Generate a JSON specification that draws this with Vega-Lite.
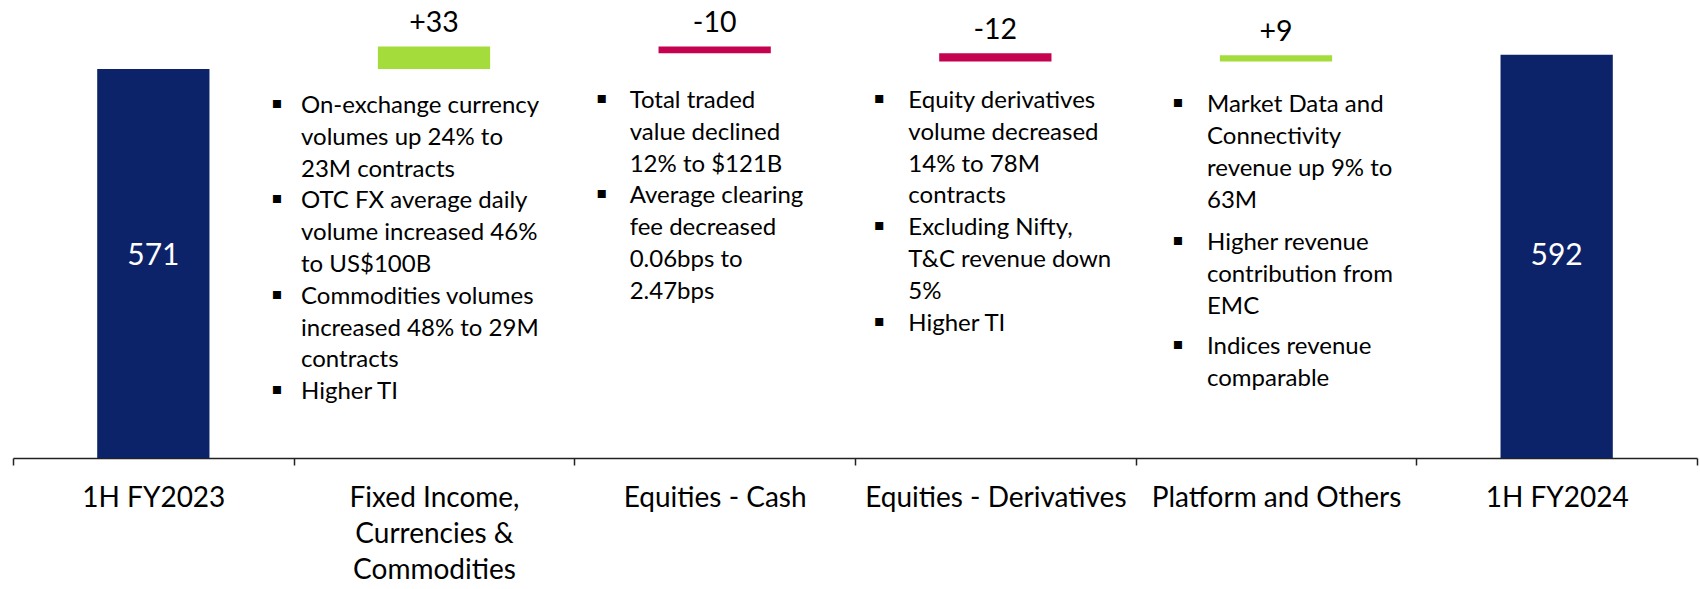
{
  "$schema": "https://vega.github.io/schema/vega-lite/v6.json",
  "autosize": "none",
  "padding": {"left": 13, "top": 0, "right": 3, "bottom": 131},
  "width": 1684,
  "height": 458,
  "background": "white",
  "config": {"view": {"stroke": null}, "font": "Lato", "text": {"font": "Lato"}},
  "datasets": {
    "bars": [
      {"cat": "1H FY2023", "lo": 0, "hi": 571, "kind": "total", "label": "571"},
      {"cat": "Fixed Income, Currencies & Commodities", "lo": 571, "hi": 604, "kind": "up", "label": "+33"},
      {"cat": "Equities - Cash", "lo": 594, "hi": 604, "kind": "down", "label": "-10"},
      {"cat": "Equities - Derivatives", "lo": 582, "hi": 594, "kind": "down", "label": "-12"},
      {"cat": "Platform and Others", "lo": 582, "hi": 591, "kind": "up", "label": "+9"},
      {"cat": "1H FY2024", "lo": 0, "hi": 592, "kind": "total", "label": "592"}
    ],
    "notes": [
      {"col": 2, "cat": "Fixed Income, Currencies & Commodities", "first": 0, "lines": ["On-exchange currency", "volumes up 24% to", "23M contracts"]},
      {"col": 2, "cat": "Fixed Income, Currencies & Commodities", "first": 3, "lines": ["OTC FX average daily", "volume increased 46%", "to US$100B"]},
      {"col": 2, "cat": "Fixed Income, Currencies & Commodities", "first": 6, "lines": ["Commodities volumes", "increased 48% to 29M", "contracts"]},
      {"col": 2, "cat": "Fixed Income, Currencies & Commodities", "first": 9, "lines": ["Higher TI"]},
      {"col": 3, "cat": "Equities - Cash", "first": 0, "lines": ["Total traded", "value declined", "12% to $121B"]},
      {"col": 3, "cat": "Equities - Cash", "first": 3, "lines": ["Average clearing", "fee decreased", "0.06bps to", "2.47bps"]},
      {"col": 4, "cat": "Equities - Derivatives", "first": 0, "lines": ["Equity derivatives", "volume decreased", "14% to 78M", "contracts"]},
      {"col": 4, "cat": "Equities - Derivatives", "first": 4, "lines": ["Excluding Nifty,", "T&C revenue down", "5%"]},
      {"col": 4, "cat": "Equities - Derivatives", "first": 7, "lines": ["Higher TI"]},
      {"col": 5, "cat": "Platform and Others", "first": 0, "lines": ["Market Data and", "Connectivity", "revenue up 9% to", "63M"]},
      {"col": 5, "cat": "Platform and Others", "first": 4, "lines": ["Higher revenue", "contribution from", "EMC"]},
      {"col": 5, "cat": "Platform and Others", "first": 7, "lines": ["Indices revenue", "comparable"]}
    ]
  },
  "encoding": {
    "x": {
      "field": "cat",
      "type": "nominal",
      "sort": null,
      "scale": {"domain": ["1H FY2023", "Fixed Income, Currencies & Commodities", "Equities - Cash", "Equities - Derivatives", "Platform and Others", "1H FY2024"], "paddingInner": 0, "paddingOuter": 0},
      "axis": {
        "title": null,
        "labelAngle": 0,
        "tickBand": "extent",
        "tickSize": 7,
        "tickColor": "#222222",
        "tickWidth": 1.5,
        "domainColor": "#222222",
        "domainWidth": 1.5,
        "labelFont": "Lato",
        "labelFontSize": 28,
        "labelColor": "#000000",
        "labelBaseline": "alphabetic",
        "labelPadding": 41,
        "labelLineHeight": 36,
        "labelLimit": 0,
        "labelOverlap": false,
        "labelBound": false,
        "labelExpr": "datum.value == 'Fixed Income, Currencies & Commodities' ? ['Fixed Income,', 'Currencies &', 'Commodities'] : datum.value"
      }
    }
  },
  "resolve": {"scale": {"y": "independent"}},
  "layer": [
    {
      "data": {"name": "bars"},
      "mark": {"type": "bar", "width": {"band": 0.4}},
      "encoding": {
        "y": {"field": "lo", "type": "quantitative", "scale": {"domain": [0, 672.2], "nice": false, "zero": true}, "axis": null},
        "y2": {"field": "hi"},
        "color": {"field": "kind", "type": "nominal", "scale": {"domain": ["total", "up", "down"], "range": ["#0D2369", "#A4DD3B", "#C4024F"]}, "legend": null}
      }
    },
    {
      "data": {"name": "bars"},
      "transform": [{"filter": "datum.kind != 'total'"}],
      "mark": {"type": "text", "fontSize": 28.5, "baseline": "alphabetic", "dy": -14, "color": "#000000"},
      "encoding": {
        "y": {"field": "hi", "type": "quantitative", "scale": {"domain": [0, 672.2], "nice": false, "zero": true}, "axis": null},
        "text": {"field": "label", "type": "nominal"}
      }
    },
    {
      "data": {"name": "bars"},
      "transform": [{"filter": "datum.kind == 'total'"}],
      "mark": {"type": "text", "fontSize": 30, "baseline": "middle", "color": "#FFFFFF"},
      "encoding": {
        "y": {"datum": 296, "type": "quantitative", "scale": {"domain": [0, 672.2], "nice": false, "zero": true}, "axis": null},
        "text": {"field": "label", "type": "nominal"}
      }
    },
    {
      "data": {"name": "notes"},
      "transform": [{"filter": "datum.col == 2"}],
      "mark": {"type": "text", "align": "left", "baseline": "alphabetic", "fontSize": 24, "lineHeight": 31.8, "dx": -133, "color": "#000000"},
      "encoding": {
        "y": {"field": "first", "type": "quantitative", "scale": {"domain": [-3.5535, 10.849], "reverse": true, "nice": false, "zero": false}, "axis": null},
        "text": {"field": "lines", "type": "nominal"}
      }
    },
    {
      "data": {"name": "notes"},
      "transform": [{"filter": "datum.col == 2"}],
      "mark": {"type": "text", "align": "left", "baseline": "alphabetic", "font": "DejaVu Sans", "fontSize": 10.5, "dx": -162, "dy": -6, "text": "■", "color": "#000000"},
      "encoding": {
        "y": {"field": "first", "type": "quantitative", "scale": {"domain": [-3.5535, 10.849], "reverse": true, "nice": false, "zero": false}, "axis": null}
      }
    },
    {
      "data": {"name": "notes"},
      "transform": [{"filter": "datum.col == 3"}],
      "mark": {"type": "text", "align": "left", "baseline": "alphabetic", "fontSize": 24, "lineHeight": 31.8, "dx": -85, "dy": -5, "color": "#000000"},
      "encoding": {
        "y": {"field": "first", "type": "quantitative", "scale": {"domain": [-3.5535, 10.849], "reverse": true, "nice": false, "zero": false}, "axis": null},
        "text": {"field": "lines", "type": "nominal"}
      }
    },
    {
      "data": {"name": "notes"},
      "transform": [{"filter": "datum.col == 3"}],
      "mark": {"type": "text", "align": "left", "baseline": "alphabetic", "font": "DejaVu Sans", "fontSize": 10.5, "dx": -118, "dy": -11, "text": "■", "color": "#000000"},
      "encoding": {
        "y": {"field": "first", "type": "quantitative", "scale": {"domain": [-3.5535, 10.849], "reverse": true, "nice": false, "zero": false}, "axis": null}
      }
    },
    {
      "data": {"name": "notes"},
      "transform": [{"filter": "datum.col == 4"}],
      "mark": {"type": "text", "align": "left", "baseline": "alphabetic", "fontSize": 24, "lineHeight": 31.8, "dx": -87, "dy": -5, "color": "#000000"},
      "encoding": {
        "y": {"field": "first", "type": "quantitative", "scale": {"domain": [-3.5535, 10.849], "reverse": true, "nice": false, "zero": false}, "axis": null},
        "text": {"field": "lines", "type": "nominal"}
      }
    },
    {
      "data": {"name": "notes"},
      "transform": [{"filter": "datum.col == 4"}],
      "mark": {"type": "text", "align": "left", "baseline": "alphabetic", "font": "DejaVu Sans", "fontSize": 10.5, "dx": -121, "dy": -11, "text": "■", "color": "#000000"},
      "encoding": {
        "y": {"field": "first", "type": "quantitative", "scale": {"domain": [-3.5535, 10.849], "reverse": true, "nice": false, "zero": false}, "axis": null}
      }
    },
    {
      "data": {"name": "notes"},
      "transform": [{"filter": "datum.col == 5"}],
      "mark": {"type": "text", "align": "left", "baseline": "alphabetic", "fontSize": 24, "lineHeight": 32, "dx": -69, "color": "#000000"},
      "encoding": {
        "y": {"field": "first", "type": "quantitative", "scale": {"domain": [-3.237, 10.0], "reverse": true, "nice": false, "zero": false}, "axis": null},
        "text": {"field": "lines", "type": "nominal"}
      }
    },
    {
      "data": {"name": "notes"},
      "transform": [{"filter": "datum.col == 5"}],
      "mark": {"type": "text", "align": "left", "baseline": "alphabetic", "font": "DejaVu Sans", "fontSize": 10.5, "dx": -103, "dy": -6, "text": "■", "color": "#000000"},
      "encoding": {
        "y": {"field": "first", "type": "quantitative", "scale": {"domain": [-3.237, 10.0], "reverse": true, "nice": false, "zero": false}, "axis": null}
      }
    }
  ]
}
